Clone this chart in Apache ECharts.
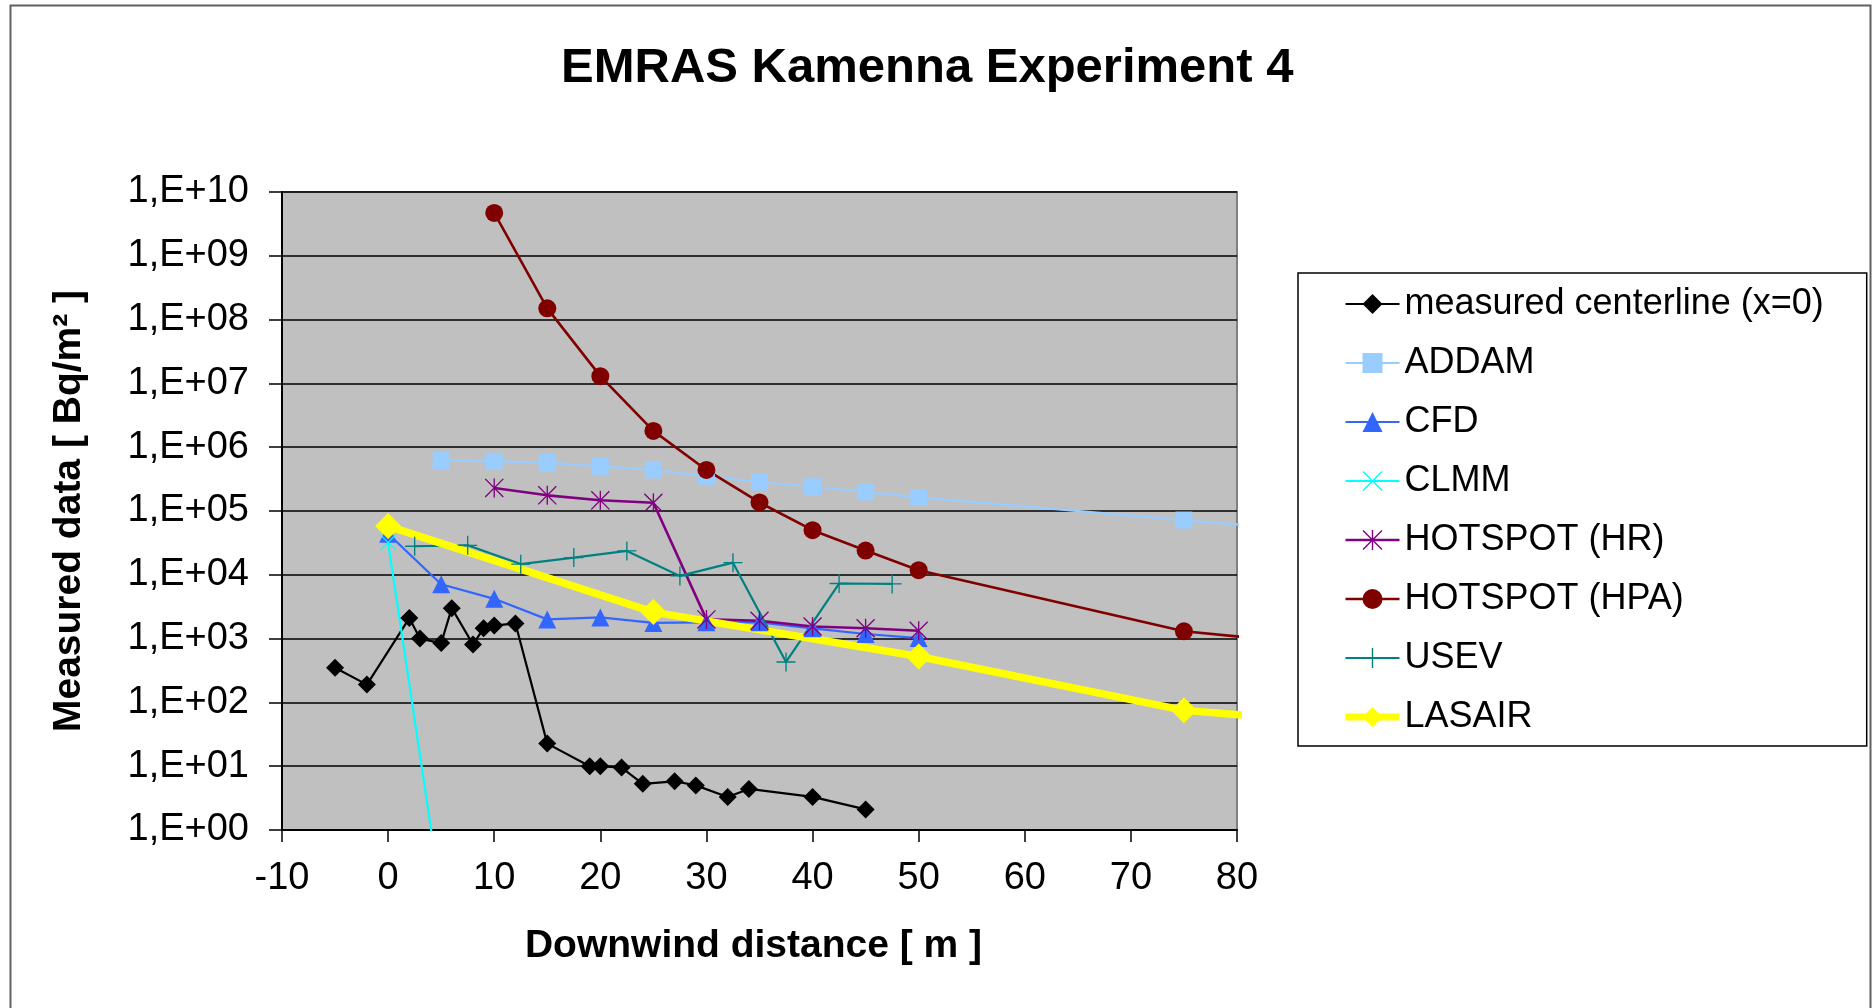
<!DOCTYPE html>
<html>
<head>
<meta charset="utf-8">
<script src="https://cdn.jsdelivr.net/npm/echarts@6/dist/echarts.min.js"></script>
<style>
html,body{margin:0;padding:0;background:#fff;}
#c{width:1873px;height:1008px;}
</style>
</head>
<body>
<div id="c"></div>
<script>
// ---- data ----
const xTicks = [-10, 0, 10, 20, 30, 40, 50, 60, 70, 80];
const yTickExponents = [0,1,2,3,4,5,6,7,8,9,10];

const measuredX = [-5,-2,2,3,5,6,8,9,10,12,15,19,20,22,24,27,29,32,34,40,45];
const measuredY = [350,190,2100,1000,850,3000,810,1450,1600,1730,22.6,10,10,9.5,5.3,5.8,5.0,3.3,4.4,3.3,2.1];

const addamX = [5,10,15,20,25,30,35,40,45,50,75,100];
const addamY = [6.2e5,6.0e5,5.75e5,5.0e5,4.4e5,3.5e5,2.85e5,2.4e5,2.0e5,1.63e5,7.2e4,3.3e4];

const cfdX = [0,5,10,15,20,25,30,35,40,45,50];
const cfdY = [4.4e4,7.1e3,4.2e3,2.0e3,2.15e3,1.76e3,1.8e3,1.8e3,1.45e3,1.18e3,1.02e3];

const clmmX = [0,5];
const clmmY = [3.2e4,0.09];

const hrX = [10,15,20,25,30,35,40,45,50];
const hrY = [2.3e5,1.76e5,1.47e5,1.35e5,2.0e3,1.9e3,1.55e3,1.45e3,1.33e3];

const hpaX = [10,15,20,25,30,35,40,45,50,75,100];
const hpaY = [4.7e9,1.5e8,1.3e7,1.8e6,4.4e5,1.36e5,5.0e4,2.4e4,1.18e4,1.3e3,520];

const usevX = [2.5,7.5,12.5,17.5,22.5,27.5,32.5,37.5,42.5,47.5];
const usevY = [2.8e4,2.9e4,1.47e4,1.86e4,2.37e4,9.6e3,1.55e4,430,7.3e3,7.2e3];

const lasairX = [0,25,50,75,100];
const lasairY = [5.8e4,2.6e3,525,75,35];

const seriesNames = ['measured centerline (x=0)','ADDAM','CFD','CLMM','HOTSPOT (HR)','HOTSPOT (HPA)','USEV','LASAIR'];

// ---- helpers ----
function pairs(xs, ys){ return xs.map((x,i)=>[x, ys[i]]); }
const FONT = '"Liberation Sans", Arial, "DejaVu Sans", sans-serif';

const plusPath = 'path://M9.3,0 L10.7,0 L10.7,9.3 L20,9.3 L20,10.7 L10.7,10.7 L10.7,20 L9.3,20 L9.3,10.7 L0,10.7 L0,9.3 L9.3,9.3 Z';
const xPath = 'path://M0,1 L1,0 L10,9 L19,0 L20,1 L11,10 L20,19 L19,20 L10,11 L1,20 L0,19 L9,10 Z';
const astPath = 'path://M0,1 L1,0 L20,19 L19,20 Z M19,0 L20,1 L1,20 L0,19 Z M9.3,0 L10.7,0 L10.7,20 L9.3,20 Z';

function mk(name, xs, ys, color, width, symbol, size){
  return {
    name: name,
    type: 'line',
    data: pairs(xs, ys),
    clip: true,
    symbol: symbol,
    symbolSize: size,
    showAllSymbol: true,
    lineStyle: {color: color, width: width},
    itemStyle: {color: color, borderWidth: 0},
    emphasis: {disabled: true},
    animation: false
  };
}

const series = [
  mk(seriesNames[0], measuredX, measuredY, '#000000', 2.2, 'diamond', 18),
  mk(seriesNames[1], addamX, addamY, '#99CCFF', 2.2, 'rect', 17),
  mk(seriesNames[2], cfdX, cfdY, '#3366FF', 2.2, 'triangle', 18),
  mk(seriesNames[3], clmmX, clmmY, '#00FFFF', 2.2, xPath, 16),
  mk(seriesNames[4], hrX, hrY, '#800080', 2.6, astPath, 19),
  mk(seriesNames[5], hpaX, hpaY, '#800000', 2.6, 'circle', 18),
  mk(seriesNames[6], usevX, usevY, '#008080', 2.2, plusPath, 19),
  mk(seriesNames[7], lasairX, lasairY, '#FFFF00', 7.5, 'diamond', 26)
];

const legendWidths = [2, 2, 2.2, 2.2, 2.6, 2.6, 2.2, 7];

function expLabel(v){
  const e = Math.round(Math.log10(v));
  return '1,E+' + (e < 10 ? '0' + e : '' + e);
}

const chart = echarts.init(document.getElementById('c'), null, {renderer: 'canvas'});
chart.setOption({
  backgroundColor: '#ffffff',
  animation: false,
  title: {
    text: 'EMRAS Kamenna Experiment 4',
    left: 561, top: 44, padding: 0,
    textStyle: {fontFamily: FONT, fontSize: 49, fontWeight: 'bold', color: '#000'}
  },
  graphic: [{
    type: 'rect', z: -10, silent: true,
    shape: {x: 10.5, y: 5.5, width: 1860, height: 1020},
    style: {fill: 'none', stroke: '#606060', lineWidth: 2}
  }],
  legend: {
    orient: 'vertical',
    left: 1298, top: 273,
    padding: [13, 43, 11, 44],
    itemWidth: 54, itemHeight: 25, itemGap: 23,
    backgroundColor: '#ffffff',
    borderColor: '#000000', borderWidth: 1.5,
    textStyle: {fontFamily: FONT, fontSize: 36, lineHeight: 36, color: '#000'},
    data: seriesNames.map((n, i) => ({name: n, lineStyle: {width: legendWidths[i]}}))
  },
  grid: {
    left: 282, top: 192, width: 955, height: 638,
    show: true, backgroundColor: '#C0C0C0',
    borderColor: '#808080', borderWidth: 2
  },
  xAxis: {
    type: 'value', min: xTicks[0], max: xTicks[xTicks.length-1], interval: 10,
    name: 'Downwind distance [ m ]', nameLocation: 'middle', nameGap: 97,
    nameTextStyle: {fontFamily: FONT, fontSize: 39, fontWeight: 'bold', color: '#000', padding: [0, 12, 0, 0]},
    axisLine: {show: true, onZero: false, lineStyle: {color: '#000', width: 2}},
    axisTick: {show: true, inside: false, length: 12, lineStyle: {color: '#000', width: 1.5}},
    axisLabel: {margin: 30, fontFamily: FONT, fontSize: 38, color: '#000'},
    splitLine: {show: false}
  },
  yAxis: {
    type: 'log', logBase: 10, interval: 1,
    min: Math.pow(10, yTickExponents[0]), max: Math.pow(10, yTickExponents[yTickExponents.length-1]),
    name: 'Measured data [ Bq/m² ]', nameLocation: 'middle', nameGap: 193,
    nameTextStyle: {fontFamily: FONT, fontSize: 39, fontWeight: 'bold', color: '#000'},
    axisLine: {show: true, onZero: false, lineStyle: {color: '#000', width: 2}},
    axisTick: {show: true, inside: false, length: 13, lineStyle: {color: '#000', width: 1.5}},
    axisLabel: {margin: 33, fontFamily: FONT, fontSize: 38, color: '#000', formatter: expLabel},
    splitLine: {show: true, lineStyle: {color: '#000', width: 1.5}},
    minorTick: {show: false}
  },
  series: series
});
</script>
</body>
</html>
